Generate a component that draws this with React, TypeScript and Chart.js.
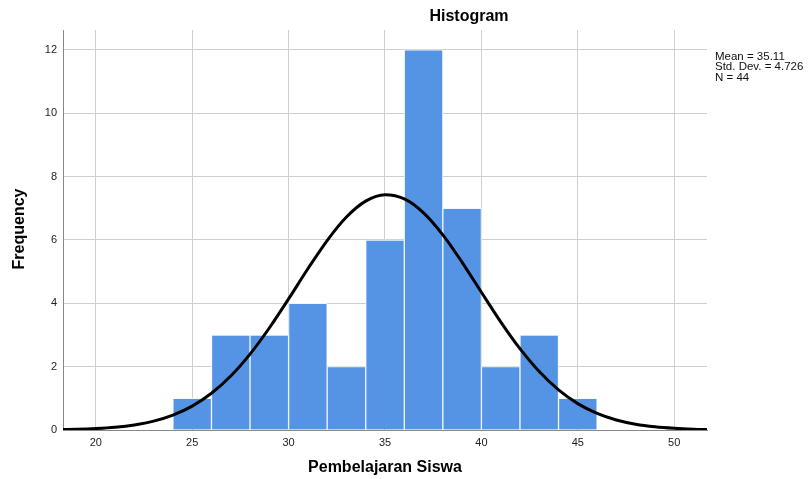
import React, { useEffect, useRef } from "react";
import { Chart, registerables } from "chart.js";

Chart.register(...registerables);

const binCenters = [25, 27, 29, 31, 33, 35, 37, 39, 41, 43, 45];
const frequencies = [1, 3, 3, 4, 2, 6, 12, 7, 2, 3, 1];

const curveX = [18, 19, 20, 21, 22, 23, 24, 25, 26, 27, 28, 29, 30, 31, 32, 33, 34, 35, 36, 37, 38, 39, 40, 41, 42, 43, 44, 45, 46, 47, 48, 49, 50, 51, 52];
const curveY = [0.011, 0.022, 0.045, 0.086, 0.159, 0.279, 0.469, 0.754, 1.159, 1.704, 2.396, 3.221, 4.140, 5.090, 5.982, 6.724, 7.226, 7.427, 7.298, 6.858, 6.162, 5.294, 4.349, 3.417, 2.567, 1.844, 1.266, 0.832, 0.522, 0.314, 0.180, 0.099, 0.052, 0.026, 0.013];

const yTicks = [0, 2, 4, 6, 8, 10, 12];
const xTicks = [20, 25, 30, 35, 40, 45, 50];

const titleText = "Histogram";
const xTitle = "Pembelajaran Siswa";
const yTitle = "Frequency";
const statsLines = ["Mean = 35.11", "Std. Dev. = 4.726", "N = 44"];

const FONT = "Arial, 'Liberation Sans', sans-serif";

export default function App() {
  const ref = useRef<HTMLCanvasElement | null>(null);

  useEffect(() => {
    document.body.style.margin = "0";
    const canvas = ref.current;
    if (!canvas) return;

    const textPlugin = {
      id: "texts",
      afterDraw(chart: any) {
        const ctx = chart.ctx;
        ctx.save();
        ctx.fillStyle = "#000";
        ctx.font = `bold 16px ${FONT}`;
        ctx.textAlign = "center";
        ctx.textBaseline = "middle";
        ctx.fillText(titleText, 469, 17);
        ctx.fillText(xTitle, 385, 468);
        ctx.save();
        ctx.translate(20, 229);
        ctx.rotate(-Math.PI / 2);
        ctx.fillText(yTitle, 0, 0);
        ctx.restore();
        ctx.font = `11.5px ${FONT}`;
        ctx.textAlign = "left";
        ctx.fillStyle = "#111";
        statsLines.forEach((s, i) => ctx.fillText(s, 715, 56.5 + i * 10.5));
        ctx.restore();
      },
    };

    const chart = new Chart(canvas, {
      type: "bar",
      data: {
        datasets: [
          {
            type: "line",
            data: curveX.map((x, i) => ({ x, y: curveY[i] })),
            borderColor: "#000",
            borderWidth: 3,
            pointRadius: 0,
            tension: 0.4,
            cubicInterpolationMode: "monotone",
            fill: false,
            order: 0,
          } as any,
          {
            type: "bar",
            data: binCenters.map((x, i) => ({ x, y: frequencies[i] })),
            backgroundColor: "rgb(85,148,228)",
            borderColor: "rgba(240,246,255,1)",
            borderWidth: 1,
            barPercentage: 1,
            categoryPercentage: 1,
            order: 1,
          } as any,
        ],
      },
      options: {
        animation: false,
        responsive: false,
        maintainAspectRatio: false,
        layout: { padding: { left: 0, top: 30, right: 101, bottom: 0 } },
        plugins: { legend: { display: false }, tooltip: { enabled: false } },
        scales: {
          x: {
            type: "linear",
            min: 18.3,
            max: 51.7,
            offset: false,
            afterFit(scale: any) {
              scale.height = 49;
            },
            afterBuildTicks(scale: any) {
              scale.ticks = xTicks.map((v) => ({ value: v }));
            },
            grid: { color: "#cfcfcf", lineWidth: 1, drawTicks: false, offset: false },
            border: { color: "#888", width: 1 },
            ticks: { color: "#222", font: { family: FONT, size: 11 }, padding: 6 },
          },
          y: {
            min: 0,
            max: 12.63,
            afterFit(scale: any) {
              scale.width = 63;
            },
            afterBuildTicks(scale: any) {
              scale.ticks = yTicks.map((v) => ({ value: v }));
            },
            grid: { color: "#cfcfcf", lineWidth: 1, drawTicks: false },
            border: { color: "#888", width: 1 },
            ticks: { color: "#222", font: { family: FONT, size: 11 }, padding: 6 },
          },
        },
      },
      plugins: [textPlugin],
    });
    return () => chart.destroy();
  }, []);

  return (
    <div style={{ position: "relative", width: 808, height: 479 }}>
      <canvas ref={ref} width={808} height={479} style={{ width: 808, height: 479, display: "block" }} />
    </div>
  );
}
